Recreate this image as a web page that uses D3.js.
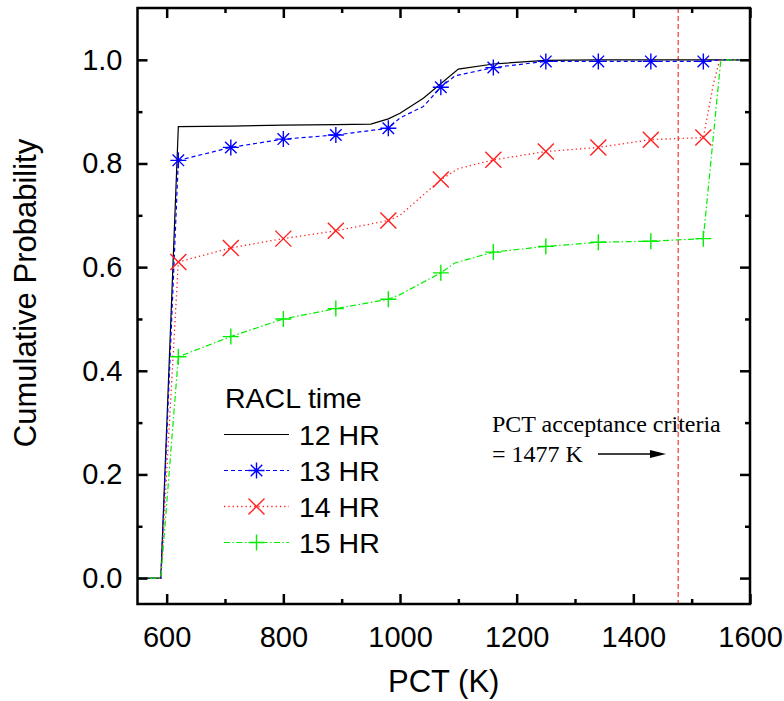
<!DOCTYPE html>
<html>
<head>
<meta charset="utf-8">
<script src="https://cdn.jsdelivr.net/npm/d3@7"></script>
<style>
  body { margin: 0; background: #fff; }
  text { font-family: Arial, "Liberation Sans", sans-serif; }
</style>
</head>
<body>
<svg id="chart" width="784" height="701"></svg>
<script>
// marker positions (PCT, K) and cumulative probabilities
const markerPct = [620, 710, 800, 890, 980, 1070, 1160, 1250, 1340, 1430, 1520];
const hr13 = [0.806, 0.831, 0.847, 0.855, 0.868, 0.947, 0.985, 0.997, 0.997, 0.997, 0.997];
const hr14 = [0.61, 0.637, 0.655, 0.67, 0.69, 0.769, 0.807, 0.823, 0.831, 0.846, 0.85];
const hr15 = [0.427, 0.466, 0.5, 0.52, 0.538, 0.589, 0.629, 0.64, 0.648, 0.65, 0.655];

// full curves (markers plus the bends between them)
const line12 = [[550, 0], [590, 0], [620, 0.871], [710, 0.872], [800, 0.874], [890, 0.875], [950, 0.876],
  [980, 0.886], [1000, 0.897], [1040, 0.926], [1100, 0.982], [1160, 0.992], [1250, 0.999], [1340, 1], [1600, 1]];
const line13 = [[550, 0], [590, 0], [620, 0.806], [710, 0.831], [800, 0.847], [890, 0.855], [980, 0.868],
  [1000, 0.888], [1040, 0.91], [1070, 0.947], [1094, 0.969], [1160, 0.985], [1250, 0.997], [1520, 0.997], [1550, 1], [1600, 1]];
const line14 = [[550, 0], [590, 0], [620, 0.61], [710, 0.637], [800, 0.655], [890, 0.67], [980, 0.69],
  [1000, 0.7], [1070, 0.769], [1100, 0.79], [1160, 0.807], [1250, 0.823], [1340, 0.831], [1430, 0.846], [1520, 0.85],
  [1537, 0.952], [1548, 1], [1600, 1]];
const line15 = [[550, 0], [590, 0], [620, 0.427], [710, 0.466], [800, 0.5], [890, 0.52], [980, 0.538],
  [1000, 0.547], [1070, 0.589], [1094, 0.608], [1160, 0.629], [1250, 0.64], [1340, 0.648], [1430, 0.65], [1520, 0.655],
  [1550, 1], [1600, 1]];

const criteria = 1477;
const xMajor = [600, 800, 1000, 1200, 1400, 1600];
const xMinor = [700, 900, 1100, 1300, 1500];
const yMajor = [0, 0.2, 0.4, 0.6, 0.8, 1.0];
const yMinor = [0.1, 0.3, 0.5, 0.7, 0.9];
const legendLabels = ["12 HR", "13 HR", "14 HR", "15 HR"];

const svg = d3.select("#chart");
const margin = { top: 8, right: 34, bottom: 97, left: 137.5 };
const width = +svg.attr("width");
const height = +svg.attr("height");

const x = d3.scaleLinear().domain([550, 1600]).range([margin.left, width - margin.right]);
const y = d3.scaleLinear().domain([-0.05, 1.1]).range([height - margin.bottom, margin.top]);

const series = [
  { pts: line12, color: "#000", dash: null, width: 1.2, marker: null, vals: null },
  { pts: line13, color: "#0000ff", dash: "4,3", width: 1.2, marker: "star", vals: hr13 },
  { pts: line14, color: "#ff2020", dash: "1.3,3", width: 1.3, marker: "cross", vals: hr14 },
  { pts: line15, color: "#00ee00", dash: "6,2.5,1.5,2.5", width: 1.2, marker: "plus", vals: hr15 },
];

const line = d3.line().x((d) => x(d[0])).y((d) => y(d[1]));

// criteria line
svg.append("line")
  .attr("x1", x(criteria)).attr("x2", x(criteria))
  .attr("y1", y.range()[1]).attr("y2", y.range()[0])
  .attr("stroke", "#f25c5c").attr("stroke-width", 1.5).attr("stroke-dasharray", "5,3");

function markerPath(type, r) {
  if (type === "star") {
    const d = r * 0.72;
    return `M${-r},0H${r}M0,${-r}V${r}M${-d},${-d}L${d},${d}M${-d},${d}L${d},${-d}`;
  }
  if (type === "cross") return `M${-r},${-r}L${r},${r}M${-r},${r}L${r},${-r}`;
  return `M${-r},0H${r}M0,${-r}V${r}`;
}

series.forEach((s) => {
  svg.append("path").datum(s.pts)
    .attr("fill", "none").attr("stroke", s.color).attr("stroke-width", s.width)
    .attr("stroke-dasharray", s.dash).attr("d", line);
  if (s.marker) {
    svg.append("g").selectAll("path")
      .data(markerPct.map((p, i) => [p, s.vals[i]]))
      .join("path")
      .attr("transform", (d) => `translate(${x(d[0])},${y(d[1])})`)
      .attr("d", markerPath(s.marker, s.marker === "plus" ? 8 : 8))
      .attr("fill", "none").attr("stroke", s.color).attr("stroke-width", 1.4);
  }
});

// axes with inward ticks on all four sides
const [x0, x1] = x.range();
const [yb, yt] = y.range();
const axisW = 2.5;

function styleAxis(g) {
  g.select(".domain").remove();
  g.selectAll(".tick line").attr("stroke", "#000").attr("stroke-width", axisW);
}

svg.append("g").attr("transform", `translate(0,${yb})`)
  .call(d3.axisBottom(x).tickValues(xMajor).tickSize(-10).tickPadding(22).tickFormat(d3.format("d")))
  .call(styleAxis)
  .call((g) => g.selectAll("text").attr("font-size", 29).attr("fill", "#000"));
svg.append("g").attr("transform", `translate(0,${yb})`)
  .call(d3.axisBottom(x).tickValues(xMinor).tickSize(-5).tickFormat(""))
  .call(styleAxis);
svg.append("g").attr("transform", `translate(0,${yt})`)
  .call(d3.axisTop(x).tickValues(xMajor).tickSize(-10).tickFormat(""))
  .call(styleAxis);
svg.append("g").attr("transform", `translate(0,${yt})`)
  .call(d3.axisTop(x).tickValues(xMinor).tickSize(-5).tickFormat(""))
  .call(styleAxis);

svg.append("g").attr("transform", `translate(${x0},0)`)
  .call(d3.axisLeft(y).tickValues(yMajor).tickSize(-10).tickPadding(15).tickFormat(d3.format(".1f")))
  .call(styleAxis)
  .call((g) => g.selectAll("text").attr("font-size", 29).attr("fill", "#000"));
svg.append("g").attr("transform", `translate(${x0},0)`)
  .call(d3.axisLeft(y).tickValues(yMinor).tickSize(-5).tickFormat(""))
  .call(styleAxis);
svg.append("g").attr("transform", `translate(${x1},0)`)
  .call(d3.axisRight(y).tickValues(yMajor).tickSize(-10).tickFormat(""))
  .call(styleAxis);
svg.append("g").attr("transform", `translate(${x1},0)`)
  .call(d3.axisRight(y).tickValues(yMinor).tickSize(-5).tickFormat(""))
  .call(styleAxis);

svg.append("rect")
  .attr("x", x0).attr("y", yt).attr("width", x1 - x0).attr("height", yb - yt)
  .attr("fill", "none").attr("stroke", "#000").attr("stroke-width", axisW);

// axis titles
svg.append("text")
  .attr("x", (x0 + x1) / 2).attr("y", 692)
  .attr("text-anchor", "middle").attr("font-size", 31)
  .text("PCT (K)");
svg.append("text")
  .attr("transform", "translate(36,293) rotate(-90)")
  .attr("text-anchor", "middle").attr("font-size", 31)
  .text("Cumulative Probability");

// legend
const legend = svg.append("g");
legend.append("text").attr("x", 225).attr("y", 408).attr("font-size", 28.5).text("RACL time");
series.forEach((s, i) => {
  const ly = 434.5 + i * 36;
  legend.append("line")
    .attr("x1", 224).attr("x2", 289).attr("y1", ly).attr("y2", ly)
    .attr("stroke", s.color).attr("stroke-width", s.width).attr("stroke-dasharray", s.dash);
  if (s.marker) {
    legend.append("path")
      .attr("transform", `translate(256.5,${ly})`)
      .attr("d", markerPath(s.marker, 8))
      .attr("fill", "none").attr("stroke", s.color).attr("stroke-width", 1.4);
  }
  legend.append("text").attr("x", 299).attr("y", ly + 10.5).attr("font-size", 28.5).text(legendLabels[i]);
});

// annotation
const note = svg.append("g").attr("font-size", 24);
note.append("text").attr("x", 492).attr("y", 432).style("font-family", "'Liberation Serif', serif").text("PCT acceptance criteria");
note.append("text").attr("x", 492).attr("y", 462).style("font-family", "'Liberation Serif', serif").text("= 1477 K");
svg.append("line").attr("x1", 598).attr("x2", 652).attr("y1", 454).attr("y2", 454)
  .attr("stroke", "#000").attr("stroke-width", 1.3);
svg.append("path").attr("d", "M650,450L666,454L650,458Z").attr("fill", "#000");
</script>
</body>
</html>
